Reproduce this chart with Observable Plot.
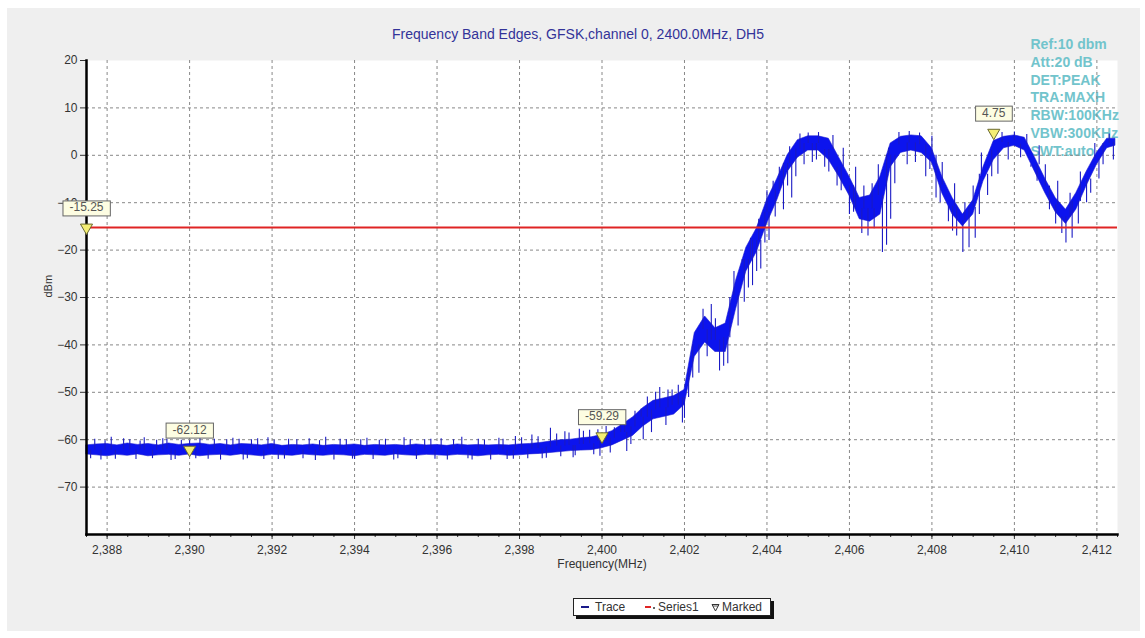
<!DOCTYPE html>
<html>
<head>
<meta charset="utf-8">
<script src="https://cdn.jsdelivr.net/npm/d3@7"></script>
<script src="https://cdn.jsdelivr.net/npm/@observablehq/plot@0.6"></script>
<style>
  body { margin: 0; background: #fff; font-family: "Liberation Sans", Arial, sans-serif; }
  #page { position: relative; width: 1145px; height: 638px; overflow: hidden; }
  #panel { position: absolute; left: 7px; top: 8px; width: 1133px; height: 623px; background: #efefef; }
  #title { position: absolute; left: 0; width: 1156px; top: 26px; text-align: center; font-size: 14px; line-height: 16px; color: #333399; }
  #chart { position: absolute; left: 0; top: 0; }
  #legend { position: absolute; left: 573px; top: 598px; width: 196px; height: 16px; background: #fff; border: 1px solid #222; box-shadow: 3px 3px 0 #111; font-size: 12px; color: #333; }
  #legend span { position: absolute; top: 1px; line-height: 14px; }
  #legend i { position: absolute; display: block; }
</style>
</head>
<body>
<div id="page">
  <div id="panel"></div>
  <div id="chart"></div>
  <div id="title"></div>
  <div id="legend"></div>
</div>
<script>
// ---------- data ----------
const titleText = "Frequency Band Edges, GFSK,channel 0, 2400.0MHz, DH5";
const xLabel = "Frequency(MHz)";
const yLabel = "dBm";
const infoLines = ["Ref:10 dbm", "Att:20 dB", "DET:PEAK", "TRA:MAXH", "RBW:100KHz", "VBW:300KHz", "SWT:auto"];
const legendNames = ["Trace", "Series1", "Marked"];

const xTicks = [2388, 2390, 2392, 2394, 2396, 2398, 2400, 2402, 2404, 2406, 2408, 2410, 2412];
const yTicks = [20, 10, 0, -10, -20, -30, -40, -50, -60, -70];

// trace envelope (MHz, dBm)
const freq = [
  2387.5, 2387.75, 2388, 2388.25, 2388.5, 2388.75, 2389, 2389.25, 2389.5, 2389.75,
  2390, 2390.25, 2390.5, 2390.75, 2391, 2391.25, 2391.5, 2391.75, 2392, 2392.25,
  2392.5, 2392.75, 2393, 2393.25, 2393.5, 2393.75, 2394, 2394.25, 2394.5, 2394.75,
  2395, 2395.25, 2395.5, 2395.75, 2396, 2396.25, 2396.5, 2396.75, 2397, 2397.25,
  2397.5, 2397.75, 2398, 2398.25, 2398.5, 2398.75, 2399, 2399.25, 2399.5, 2399.75,
  2400, 2400.25, 2400.5, 2400.75, 2401, 2401.25, 2401.5, 2401.75, 2402, 2402.25,
  2402.5, 2402.75, 2403, 2403.25, 2403.5, 2403.75, 2404, 2404.25, 2404.5, 2404.75,
  2405, 2405.25, 2405.5, 2405.75, 2406, 2406.25, 2406.5, 2406.75, 2407, 2407.25,
  2407.5, 2407.75, 2408, 2408.25, 2408.5, 2408.75, 2409, 2409.25, 2409.5, 2409.75,
  2410, 2410.25, 2410.5, 2410.75, 2411, 2411.25, 2411.5, 2411.75, 2412, 2412.25,
  2412.45
];
const traceHi = [
  -61.2, -61.0, -60.9, -61.2, -60.8, -61.1, -60.9, -61.2, -60.8, -61.1,
  -60.9, -60.8, -61.1, -60.9, -61.2, -60.9, -61.0, -61.2, -60.9, -61.3,
  -61.1, -61.2, -61.0, -61.3, -61.1, -61.2, -61.0, -61.3, -61.1, -61.2,
  -61.1, -61.3, -61.0, -61.2, -61.1, -61.3, -61.0, -61.2, -61.1, -61.2,
  -61.1, -61.2, -61.0, -60.9, -60.7, -60.4, -60.1, -60.0, -59.7, -59.5,
  -59.0, -58.2, -56.8, -55.3, -53.3, -51.8, -51.3, -50.8, -49.5, -37.5,
  -34.0, -36.5, -35.5, -26.5, -19.5, -15.5, -9.5, -5.0, 0.0, 3.2,
  4.0, 4.0, 3.5, -0.5, -4.5, -9.0, -8.5, -4.5, 2.5, 3.9,
  4.2, 4.0, 1.5, -4.5, -9.0, -12.5, -9.5, -2.5, 3.0, 3.9,
  4.2, 3.7, -0.5, -5.0, -9.0, -11.5, -8.0, -3.5, 0.5, 3.5,
  3.5
];
const traceLo = [
  -63.1, -63.3, -63.5, -63.2, -63.4, -63.1, -63.5, -63.3, -63.2, -63.4,
  -63.1, -63.5, -63.3, -63.2, -63.4, -63.1, -63.3, -63.5, -63.2, -63.3,
  -63.4, -63.1, -63.3, -63.4, -63.2, -63.3, -63.5, -63.2, -63.3, -63.4,
  -63.1, -63.3, -63.4, -63.2, -63.3, -63.4, -63.2, -63.3, -63.5, -63.3,
  -63.2, -63.4, -63.3, -63.1, -63.0, -62.8, -62.6, -62.4, -62.3, -62.2,
  -61.8, -61.2, -60.2, -59.2, -57.2, -55.7, -55.2, -54.7, -52.7, -42.5,
  -39.5, -41.5, -41.5, -32.5, -24.5, -20.5, -14.5, -9.5, -3.5, -0.5,
  1.0, 1.0, -1.0, -4.5, -8.5, -13.5, -14.0, -12.5, -2.5, 0.5,
  1.0, 0.5, -1.5, -8.0, -12.5, -15.0, -12.5, -5.5, -1.0, 1.5,
  2.0, 1.0, -3.5, -8.0, -12.0, -14.5, -11.5, -6.5, -2.0, 1.5,
  2.0
];
// individual noise spikes reaching outside the envelope
const spikeFreq = [
  2387.6, 2387.7, 2387.85, 2387.95, 2388.1, 2388.2, 2388.4, 2388.55, 2388.7, 2388.8,
  2388.9, 2389.1, 2389.2, 2389.35, 2389.45, 2389.55, 2389.65, 2389.8, 2390.0, 2390.15,
  2390.25, 2390.45, 2390.6, 2390.75, 2390.9, 2391.05, 2391.2, 2391.3, 2391.4, 2391.5,
  2391.65, 2391.8, 2391.9, 2392.05, 2392.15, 2392.3, 2392.4, 2392.6, 2392.75, 2392.9,
  2393.05, 2393.15, 2393.3, 2393.5, 2393.65, 2393.8, 2393.95, 2394.0, 2394.15, 2394.3,
  2394.45, 2394.6, 2394.75, 2394.95, 2395.05, 2395.2, 2395.35, 2395.5, 2395.7, 2395.85,
  2395.95, 2396.1, 2396.25, 2396.4, 2396.6, 2396.75, 2396.85, 2397.0, 2397.15, 2397.3,
  2397.5, 2397.6, 2397.7, 2397.85, 2397.9, 2398.05, 2398.2, 2398.3, 2398.45, 2398.55,
  2398.65, 2398.75, 2398.9, 2399.0, 2399.1, 2399.2, 2399.3, 2399.35, 2399.45, 2399.55,
  2399.7, 2399.8, 2399.9, 2399.95, 2400.1, 2400.2, 2400.3, 2400.45, 2400.55, 2400.6,
  2400.7, 2400.8, 2400.95, 2401.0, 2401.1, 2401.2, 2401.3, 2401.4, 2401.55, 2401.6,
  2401.7, 2401.85, 2401.95, 2402.0, 2402.1, 2402.2, 2402.35, 2402.45, 2402.55, 2402.65,
  2402.75, 2402.85, 2402.95, 2403.05, 2403.1, 2403.2, 2403.3, 2403.4, 2403.45, 2403.55,
  2403.6, 2403.65, 2403.75, 2403.8, 2403.85, 2403.95, 2404.0, 2404.05, 2404.15, 2404.2,
  2404.3, 2404.4, 2404.5, 2404.55, 2404.6, 2404.7, 2404.8, 2404.9, 2405.0, 2405.1,
  2405.2, 2405.25, 2405.4, 2405.5, 2405.6, 2405.7, 2405.8, 2405.85, 2406.0, 2406.1,
  2406.15, 2406.3, 2406.35, 2406.45, 2406.55, 2406.6, 2406.7, 2406.8, 2406.9, 2406.95,
  2407.0, 2407.1, 2407.2, 2407.4, 2407.45, 2407.6, 2407.7, 2407.85, 2407.95, 2408.0,
  2408.1, 2408.2, 2408.25, 2408.4, 2408.5, 2408.55, 2408.6, 2408.75, 2408.8, 2408.9,
  2409.0, 2409.05, 2409.15, 2409.2, 2409.35, 2409.45, 2409.6, 2409.7, 2409.85, 2410.0,
  2410.15, 2410.3, 2410.4, 2410.55, 2410.6, 2410.75, 2410.85, 2411.0, 2411.05, 2411.15,
  2411.25, 2411.35, 2411.4, 2411.55, 2411.6, 2411.75, 2411.85, 2411.95, 2412.05, 2412.15,
  2412.3, 2412.4
];
const spikeVal = [
  -64.0, -59.9, -64.3, -60.2, -59.5, -64.1, -59.8, -60.0, -64.2, -60.3,
  -59.6, -64.0, -60.1, -59.8, -59.9, -64.4, -64.2, -60.1, -60.2, -64.0,
  -59.4, -64.1, -59.9, -64.3, -60.0, -59.7, -59.9, -64.3, -64.0, -60.0,
  -59.8, -64.2, -59.6, -60.1, -64.2, -64.1, -59.9, -60.0, -64.0, -59.8,
  -64.4, -60.2, -59.5, -64.3, -59.9, -60.0, -64.1, -64.2, -60.0, -59.7,
  -64.2, -60.1, -59.9, -64.3, -64.0, -59.6, -60.0, -64.2, -60.0, -59.9,
  -64.1, -59.8, -64.3, -60.0, -59.5, -64.0, -64.3, -59.9, -60.1, -64.3,
  -59.7, -59.9, -64.2, -64.1, -59.3, -59.6, -64.0, -59.0, -59.4, -64.0,
  -63.9, -57.6, -58.8, -63.6, -58.3, -58.6, -63.8, -63.4, -57.8, -58.2,
  -58.0, -63.2, -57.9, -63.5, -57.2, -62.8, -57.5, -56.0, -55.5, -62.5,
  -61.0, -54.0, -53.5, -60.0, -51.0, -58.5, -50.0, -49.0, -57.0, -49.5,
  -49.5, -48.5, -56.5, -55.5, -45.0, -47.0, -46.0, -32.5, -42.5, -31.5,
  -34.5, -45.5, -44.5, -44.0, -30.0, -24.5, -36.0, -22.5, -31.0, -28.0,
  -17.5, -27.5, -24.5, -13.5, -24.0, -18.5, -7.5, -18.0, -5.5, -13.0,
  -2.5, -11.5, -6.5, 1.8, -9.0, -4.5, 4.5, -2.0, 4.7, -1.5,
  -1.0, 4.8, -2.5, -3.5, 4.2, -6.5, -7.5, 1.5, -12.5, -12.0,
  -2.5, -16.5, -6.5, -17.0, -6.0, -15.5, -2.0, -20.5, -19.0, 1.5,
  -13.5, -6.0, 4.8, -2.0, 5.0, -1.5, 4.7, -4.5, -3.0, 4.0,
  -9.0, -10.0, -1.5, -14.0, -16.0, -6.0, -17.0, -20.5, -10.0, -19.5,
  -6.5, -17.5, -12.5, 0.5, -8.5, -4.5, -4.0, 4.8, -1.0, 4.9,
  -0.5, 4.4, -2.5, -5.5, 2.0, -2.0, -11.5, -14.5, -5.5, -16.5,
  -18.5, -8.0, -17.5, -14.5, -3.5, -10.0, -8.0, 2.5, -5.0, -2.0,
  4.5, -1.0
];

const limitVal = -15.25;
const markerFreq = [2387.5, 2390, 2400, 2409.5];
const markerVal = [-15.25, -62.12, -59.29, 4.75];
const markerLabel = ["-15.25", "-62.12", "-59.29", "4.75"];

// ---------- build ----------
const band = freq.map((f, i) => ({f, lo: traceLo[i], hi: traceHi[i]}));
const spikes = spikeFreq.map((f, i) => {
  const j = d3.minIndex(freq, g => Math.abs(g - f));
  return {f, v: spikeVal[i], base: (traceHi[j] + traceLo[j]) / 2};
});
const markers = markerFreq.map((f, i) => ({f, v: markerVal[i], label: markerLabel[i]}));
const xMinor = d3.range(2387.5, 2412.51, 0.5);

const font = "'Liberation Sans', Arial, sans-serif";
const chart = Plot.plot({
  width: 1145, height: 580,
  marginLeft: 86, marginRight: 28, marginTop: 60, marginBottom: 46,
  style: {background: "transparent", fontFamily: font, fontSize: "12px", color: "#333", overflow: "visible"},
  x: {domain: [2387.5, 2412.5], label: null},
  y: {domain: [-80, 20], label: null},
  marks: [
    Plot.frame({fill: "white", stroke: "none"}),
    Plot.text([infoLines.join("\n")], {frameAnchor: "top-right", textAnchor: "start", lineAnchor: "top",
      dx: -87, dy: -24, lineHeight: 1.27, fontSize: 14, fontWeight: "bold", fill: "#72c4cc"}),
    Plot.gridX({ticks: xTicks, stroke: "#888", strokeOpacity: 1, strokeDasharray: "3,3"}),
    Plot.gridY({ticks: yTicks.filter(v => v < 20), stroke: "#888", strokeOpacity: 1, strokeDasharray: "3,3"}),
    Plot.areaY(band, {x: "f", y1: "lo", y2: "hi", fill: "#0c14ee", stroke: "#1a1ad0", strokeWidth: 0.6}),
    Plot.ruleX(spikes, {x: "f", y1: "base", y2: "v", stroke: "#1a1ac4", strokeWidth: 1.1}),
    Plot.ruleY([limitVal], {stroke: "#e02424", strokeWidth: 2}),
    Plot.axisX({ticks: xMinor, tickSize: 3, tickFormat: () => "", stroke: "#333", label: null}),
    Plot.axisX({ticks: xTicks, tickSize: 5, tickPadding: 6, tickFormat: d3.format(","), fontSize: 12, fill: "#333", stroke: "#333", label: null}),
    Plot.axisY({ticks: yTicks, tickSize: 6, tickPadding: 3, fontSize: 12, fill: "#333", stroke: "#333", label: null}),
    Plot.frame({anchor: "left", stroke: "#000", strokeWidth: 2.5}),
    Plot.frame({anchor: "bottom", stroke: "#000", strokeWidth: 2.5}),
    Plot.text([xLabel], {frameAnchor: "bottom", dy: 33, fontSize: 12, fill: "#333"}),
    Plot.text([yLabel], {frameAnchor: "left", dx: -38, rotate: -90, fontSize: 11, fill: "#333"}),
    Plot.dot(markers, {x: "f", y: "v", symbol: "triangle", rotate: 180, r: 4.5, fill: "#f4ee74", stroke: "#6a6a30", strokeWidth: 1}),
    Plot.text(markers, {x: "f", y: "v", text: "label", dy: -20, fontSize: 12, fill: "#555", className: "mklabel"})
  ]
});
document.getElementById("chart").append(chart);

// boxes behind marker labels
d3.select(chart).selectAll(".mklabel text").each(function () {
  const b = this.getBBox();
  const r = d3.select(this.parentNode).insert("rect", () => this)
    .attr("x", b.x - 6.5).attr("y", b.y + 0.5).attr("width", b.width + 13).attr("height", b.height + 1)
    .attr("fill", "#fdfde2").attr("stroke", "#666").attr("stroke-width", 1);
  const t = this.getAttribute("transform");
  if (t) r.attr("transform", t);
});

document.getElementById("title").textContent = titleText;

const lg = document.getElementById("legend");
lg.innerHTML =
  `<i style="left:7px;top:7px;width:8px;height:1.5px;background:#1a1a8a"></i>` +
  `<span style="left:21px">${legendNames[0]}</span>` +
  `<i style="left:71px;top:6.5px;width:6px;height:2.5px;background:#e02424"></i>` +
  `<i style="left:79px;top:8px;width:1.5px;height:1.5px;background:#666"></i>` +
  `<span style="left:84px">${legendNames[1]}</span>` +
  `<svg style="position:absolute;left:137px;top:4px" width="9" height="9"><path d="M1,1.5 L8,1.5 L4.5,8 Z" fill="#fff" stroke="#333" stroke-width="1"/><line x1="2" y1="3" x2="7" y2="3" stroke="#333" stroke-width="0.8"/></svg>` +
  `<span style="left:148px">${legendNames[2]}</span>`;
</script>
</body>
</html>
